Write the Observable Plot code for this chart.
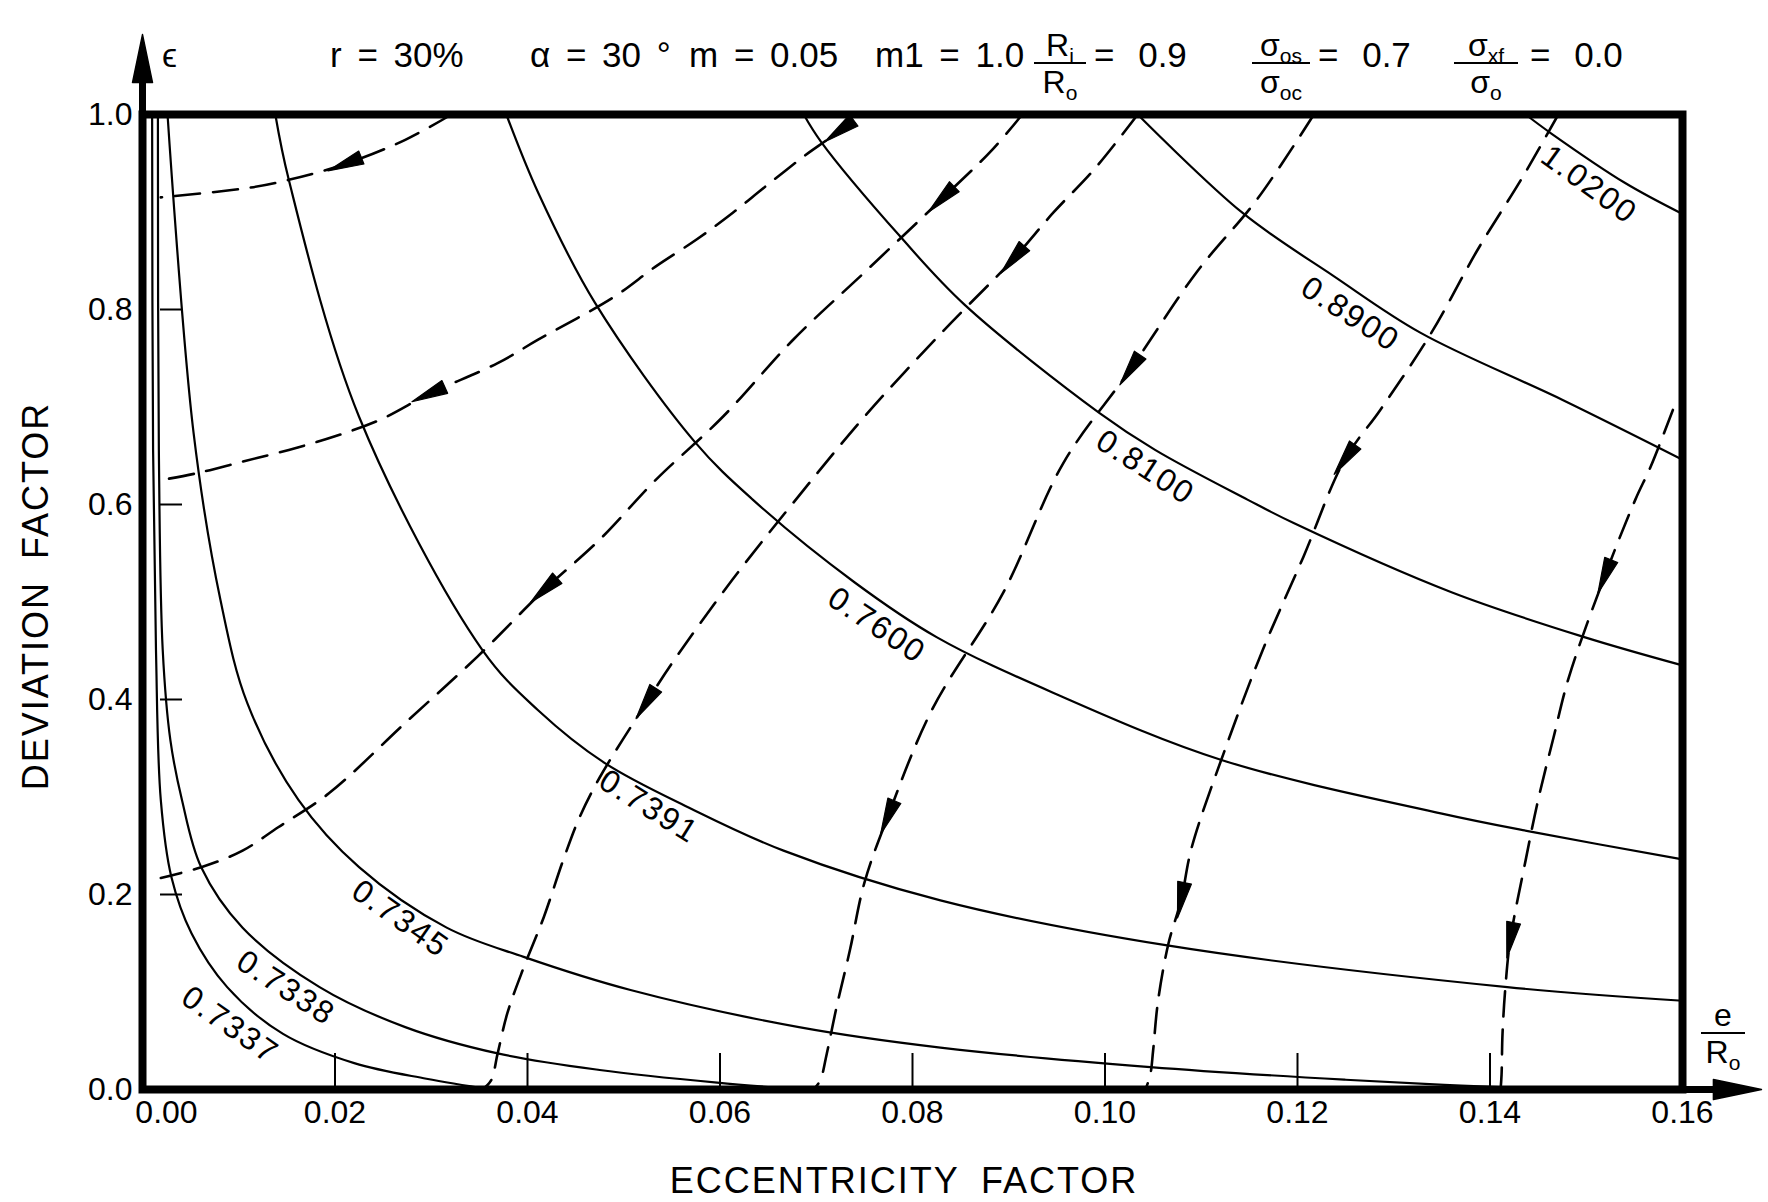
<!DOCTYPE html>
<html><head><meta charset="utf-8">
<script src="https://cdn.jsdelivr.net/npm/d3@7"></script>
<script src="https://cdn.jsdelivr.net/npm/@observablehq/plot@0.6"></script>
<style>
body{margin:0;background:#fff;}
#wrap{position:relative;width:1768px;height:1202px;font-family:"Liberation Sans",Arial,sans-serif;color:#000;overflow:hidden;}
#wrap svg{position:absolute;left:0;top:0;}
.t{position:absolute;font-size:35px;line-height:35px;white-space:pre;word-spacing:6px;top:37px;}
.frac{position:absolute;display:flex;flex-direction:column;align-items:center;font-size:32px;line-height:30px;top:30px;}
.frac .bar{align-self:stretch;border-top:2.5px solid #000;margin:2px 0 3px 0;}
.frac sub{font-size:21px;line-height:0;vertical-align:baseline;position:relative;top:7px;}
.axt{position:absolute;font-size:36px;line-height:36px;white-space:pre;letter-spacing:2px;word-spacing:10px;}
g[aria-label="text"] text{letter-spacing:2px;}
</style></head>
<body>
<div id="wrap">
  <div class="t" style="left:330px">r = 30%</div>
  <div class="t" style="left:530px">α = 30 °</div>
  <div class="t" style="left:689px">m = 0.05</div>
  <div class="t" style="left:875px">m1 = 1.0</div>
  <div class="frac" style="left:1034px;width:52px"><div>R<sub>i</sub></div><div class="bar"></div><div>R<sub>o</sub></div></div>
  <div class="t" style="left:1094px;word-spacing:14px">= 0.9</div>
  <div class="frac" style="left:1252px;width:58px"><div>σ<sub>os</sub></div><div class="bar"></div><div>σ<sub>oc</sub></div></div>
  <div class="t" style="left:1318px;word-spacing:14px">= 0.7</div>
  <div class="frac" style="left:1454px;width:64px"><div>σ<sub>xf</sub></div><div class="bar"></div><div>σ<sub>o</sub></div></div>
  <div class="t" style="left:1530px;word-spacing:14px">= 0.0</div>
  <div class="t" style="left:162px;top:38px;font-size:34px">ϵ</div>
  <div class="frac" style="left:1701px;top:1000px;width:44px"><div>e</div><div class="bar"></div><div>R<sub>o</sub></div></div>
  <div class="axt" style="left:36px;top:596px;transform:translate(-50%,-50%) rotate(-90deg)">DEVIATION FACTOR</div>
  <div class="axt" style="left:904px;top:1181px;transform:translate(-50%,-50%)">ECCENTRICITY FACTOR</div>
</div>
<script>
// ---- ticks ----
const xTickValues = [0.02, 0.04, 0.06, 0.08, 0.10, 0.12, 0.14, 0.16];
const xZeroTick = [0];
const yTickValues = [0, 0.2, 0.4, 0.6, 0.8, 1.0];
const xInnerTicks = [0.02, 0.04, 0.06, 0.08, 0.10, 0.12, 0.14];
const yInnerTicks = [0.2, 0.4, 0.6, 0.8];

// ---- solid curves (value labels and [x, y] points) ----
const curveValues = ["0.7337", "0.7338", "0.7345", "0.7391", "0.7600", "0.8100", "0.8900", "1.0200"];
const curve07337 = [[0.0010,1.0],[0.0011,0.656],[0.0014,0.451],[0.0019,0.297],[0.0030,0.218],[0.0051,0.160],[0.0088,0.105],[0.0146,0.057],[0.0220,0.027],[0.0295,0.011],[0.0362,0.0]];
const curve07338 = [[0.0016,1.0],[0.0017,0.656],[0.0021,0.451],[0.0029,0.358],[0.0041,0.297],[0.0061,0.228],[0.0104,0.166],[0.0184,0.105],[0.0273,0.064],[0.0369,0.037],[0.0475,0.020],[0.0597,0.007],[0.0684,0.0]];
const curve07345 = [[0.0026,1.0],[0.0053,0.674],[0.0081,0.502],[0.0109,0.396],[0.0162,0.297],[0.0225,0.228],[0.0316,0.166],[0.0396,0.136],[0.0507,0.102],[0.0682,0.064],[0.0829,0.043],[0.1047,0.023],[0.1250,0.010],[0.1370,0.004],[0.1470,0.0]];
const curve07391 = [[0.0138,1.0],[0.0152,0.933],[0.0225,0.690],[0.0353,0.451],[0.0411,0.389],[0.0480,0.335],[0.0570,0.288],[0.0666,0.245],[0.0829,0.194],[0.1063,0.148],[0.1418,0.105],[0.16,0.091]];
const curve07600 = [[0.0378,1.0],[0.0411,0.920],[0.0470,0.807],[0.0574,0.664],[0.0634,0.605],[0.0740,0.520],[0.0825,0.464],[0.0946,0.407],[0.1121,0.338],[0.1350,0.283],[0.1445,0.264],[0.16,0.236]];
const curve08100 = [[0.0687,1.0],[0.0705,0.972],[0.0788,0.874],[0.0854,0.805],[0.0994,0.694],[0.1052,0.656],[0.1148,0.605],[0.1196,0.581],[0.1360,0.510],[0.1498,0.464],[0.16,0.435]];
const curve08900 = [[0.1034,1.0],[0.1143,0.899],[0.1238,0.834],[0.1328,0.776],[0.1476,0.707],[0.16,0.646]];
const curve10200 = [[0.1437,1.0],[0.1463,0.981],[0.1540,0.930],[0.16,0.898]];

// ---- curve label anchors (data units) ----
const labelX = [0.0091, 0.0149, 0.0268, 0.0526, 0.0763, 0.1042, 0.1255, 0.1503];
const labelY = [0.066, 0.104, 0.175, 0.290, 0.476, 0.638, 0.795, 0.928];

// ---- dashed flow lines ----
const flow1 = [[0.0321,1.0],[0.0273,0.974],[0.0210,0.949],[0.0152,0.933],[0.0112,0.925],[0.0019,0.915]];
const flow2 = [[0.0738,1.0],[0.0724,0.984],[0.0687,0.957],[0.0647,0.926],[0.0613,0.899],[0.0576,0.872],[0.0533,0.844],[0.0490,0.813],[0.0411,0.769],[0.0369,0.745],[0.0297,0.713],[0.0247,0.687],[0.0200,0.670],[0.0152,0.656],[0.0104,0.644],[0.0056,0.632],[0.0019,0.625]];
const flow3 = [[0.0914,1.0],[0.0883,0.964],[0.0830,0.913],[0.0750,0.838],[0.0676,0.769],[0.0603,0.690],[0.0533,0.625],[0.0475,0.564],[0.0417,0.512],[0.0348,0.444],[0.0273,0.376],[0.0194,0.304],[0.0141,0.269],[0.0104,0.245],[0.0061,0.228],[0.0019,0.217]];
const flow4 = [[0.1034,1.0],[0.0989,0.944],[0.0946,0.899],[0.0904,0.851],[0.0830,0.776],[0.0750,0.690],[0.0687,0.615],[0.0613,0.523],[0.0550,0.437],[0.0523,0.396],[0.0475,0.320],[0.0454,0.279],[0.0437,0.235],[0.0417,0.177],[0.0396,0.125],[0.0379,0.078],[0.0369,0.037],[0.0362,0.009],[0.0353,0.0]];
const flow5 = [[0.1217,1.0],[0.1158,0.913],[0.1095,0.838],[0.1026,0.738],[0.0957,0.643],[0.0894,0.509],[0.0820,0.389],[0.0774,0.279],[0.0750,0.212],[0.0735,0.143],[0.0721,0.084],[0.0711,0.037],[0.0704,0.009],[0.0697,0.0]];
const flow6 = [[0.1471,1.0],[0.1434,0.936],[0.1387,0.861],[0.1339,0.776],[0.1286,0.697],[0.1249,0.646],[0.1206,0.546],[0.1164,0.451],[0.1127,0.355],[0.1090,0.248],[0.1079,0.194],[0.1066,0.150],[0.1055,0.090],[0.1050,0.040],[0.1047,0.015],[0.1042,0.0]];
const flow7 = [[0.1590,0.697],[0.1567,0.639],[0.1551,0.605],[0.1519,0.526],[0.1482,0.423],[0.1466,0.361],[0.1450,0.297],[0.1437,0.235],[0.1421,0.153],[0.1416,0.105],[0.1413,0.057],[0.1412,0.015],[0.1411,0.0]];

// arrowheads on flow lines: [line index, x, y]
const flowArrows = [[0,0.0210,0.949],[1,0.0724,0.983],[1,0.0297,0.713],[2,0.0830,0.913],[2,0.0417,0.512],[3,0.0904,0.851],[3,0.0523,0.396],[4,0.1026,0.738],[4,0.0774,0.279],[5,0.1249,0.646],[5,0.1079,0.194],[6,0.1519,0.526],[6,0.1421,0.153]];

// ---- build tables ----
const curves = [curve07337, curve07338, curve07345, curve07391, curve07600, curve08100, curve08900, curve10200];
const flows = [flow1, flow2, flow3, flow4, flow5, flow6, flow7];
const labelAngles = [35, 33, 35, 32, 34, 33, 33, 36];

const solidRows = curves.flatMap((pts, i) => pts.map(([x, y]) => ({value: curveValues[i], x, y})));
const flowRows = flows.flatMap((pts, i) => pts.map(([x, y]) => ({id: i, x, y})));
const labelRows = curveValues.map((v, i) => ({text: v, x: labelX[i], y: labelY[i], angle: labelAngles[i]}));

const baseOpts = {
  width: 1768, height: 1202,
  marginLeft: 142, marginRight: 86, marginTop: 114, marginBottom: 113,
  x: {domain: [0, 0.16]},
  y: {domain: [0, 1]},
  style: {fontFamily: '"Liberation Sans", Arial, sans-serif', fontSize: "32px", background: "white", color: "black", overflow: "visible"}
};

// probe plot to obtain the scales for arrow orientation
const probe = Plot.plot({...baseOpts, marks: [Plot.line(solidRows, {x: "x", y: "y", z: "value"})]});
const sx = probe.scale("x"), sy = probe.scale("y");

const arrowRows = flowArrows.map(([li, x, y]) => {
  const pts = flows[li].map(([a, b]) => [sx.apply(a), sy.apply(b)]);
  const px = sx.apply(x), py = sy.apply(y);
  let best = 0, bd = Infinity;
  for (let k = 0; k < pts.length - 1; k++) {
    const [x0, y0] = pts[k], [x1, y1] = pts[k + 1];
    const dx = x1 - x0, dy = y1 - y0;
    const t = Math.max(0, Math.min(1, ((px - x0) * dx + (py - y0) * dy) / (dx * dx + dy * dy)));
    const d = Math.hypot(x0 + t * dx - px, y0 + t * dy - py);
    if (d < bd) { bd = d; best = k; }
  }
  const [x0, y0] = pts[best], [x1, y1] = pts[best + 1];
  const angle = Math.atan2(x1 - x0, -(y1 - y0)) * 180 / Math.PI;
  return {x, y, angle};
});

const tri = (hw) => ({draw(ctx, l) { ctx.moveTo(-hw, 0); ctx.lineTo(0, -l); ctx.lineTo(hw, 0); ctx.closePath(); }});

const axisShafts = [{x1: 0, y1: 1, x2: 0, y2: 1.04}, {x1: 0.16, y1: 0, x2: 0.164, y2: 0}];
const axisHeads = [{x: 0, y: 1.082, angle: 0}, {x: 0.1682, y: 0, angle: 90}];

const chart = Plot.plot({
  ...baseOpts,
  marks: [
    Plot.tickX(xInnerTicks, {x: d => d, insetTop: 939, strokeWidth: 2}),
    Plot.tickY(yInnerTicks, {y: d => d, insetLeft: 18, insetRight: 1500, strokeWidth: 2}),
    Plot.line(solidRows, {x: "x", y: "y", z: "value", curve: "catmull-rom", strokeWidth: 2.2}),
    Plot.line(flowRows, {x: "x", y: "y", z: "id", curve: "catmull-rom", strokeWidth: 2.6, strokeDasharray: "25,13"}),
    Plot.vector(arrowRows, {x: "x", y: "y", rotate: "angle", length: 36, anchor: "middle", shape: tri(7), fill: "black", stroke: "black", strokeWidth: 1.2}),
    Plot.text(labelRows, {x: "x", y: "y", text: "text", rotate: "angle", fontSize: 32, fill: "black"}),
    Plot.frame({stroke: "black", strokeWidth: 8}),
    Plot.link(axisShafts, {x1: "x1", y1: "y1", x2: "x2", y2: "y2", strokeWidth: 7}),
    Plot.vector(axisHeads, {x: "x", y: "y", rotate: "angle", length: 48, anchor: "end", shape: tri(10), fill: "black", stroke: "black", strokeWidth: 1.5}),
    Plot.axisX({ticks: xTickValues, tickSize: 0, tickPadding: 11, tickFormat: d => d.toFixed(2), label: null, fontSize: 32}),
    Plot.axisX({ticks: xZeroTick, tickSize: 0, tickPadding: 11, tickFormat: d => d.toFixed(2), label: null, fontSize: 32, dx: 24}),
    Plot.axisY({ticks: yTickValues, tickSize: 0, tickPadding: 10, tickFormat: d => d.toFixed(1), label: null, fontSize: 32})
  ]
});
document.getElementById("wrap").prepend(chart);
</script>
</body></html>
